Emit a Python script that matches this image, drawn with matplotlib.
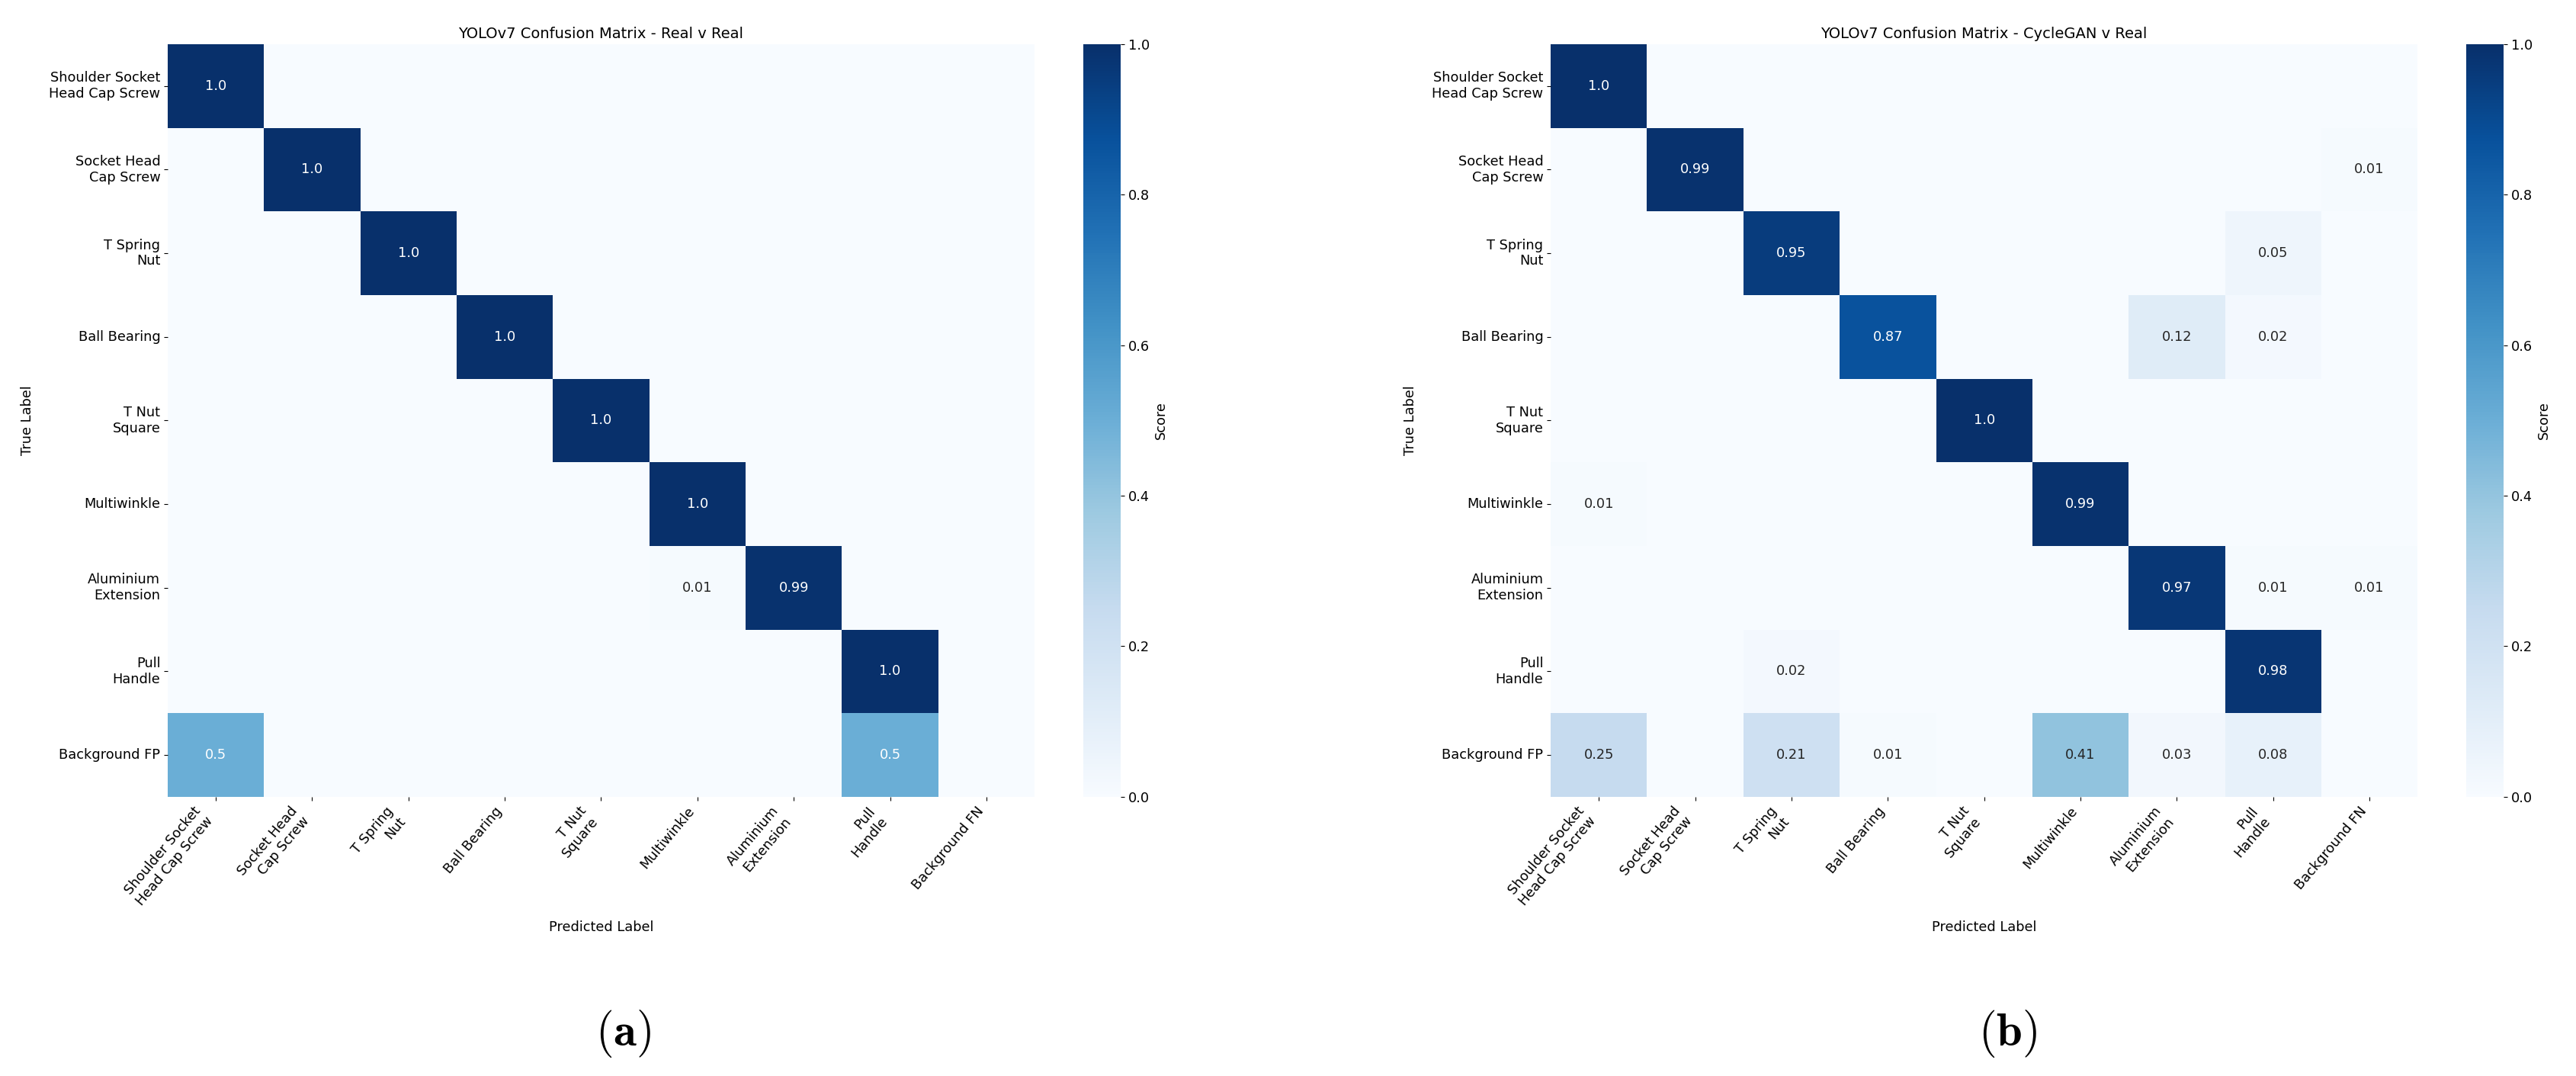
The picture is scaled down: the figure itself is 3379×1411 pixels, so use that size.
import numpy as np
import matplotlib
matplotlib.use('Agg')
import matplotlib.pyplot as plt
import seaborn as sns

true_labels = ['Shoulder Socket\nHead Cap Screw', 'Socket Head\nCap Screw', 'T Spring\nNut',
               'Ball Bearing', 'T Nut\nSquare', 'Multiwinkle', 'Aluminium\nExtension',
               'Pull\nHandle', 'Background FP']
pred_labels = ['Shoulder Socket\nHead Cap Screw', 'Socket Head\nCap Screw', 'T Spring\nNut',
               'Ball Bearing', 'T Nut\nSquare', 'Multiwinkle', 'Aluminium\nExtension',
               'Pull\nHandle', 'Background FN']

# rows = true label, cols = predicted label
real_v_real = np.array([
    [1.0, 0, 0, 0, 0, 0, 0, 0, 0],
    [0, 1.0, 0, 0, 0, 0, 0, 0, 0],
    [0, 0, 1.0, 0, 0, 0, 0, 0, 0],
    [0, 0, 0, 1.0, 0, 0, 0, 0, 0],
    [0, 0, 0, 0, 1.0, 0, 0, 0, 0],
    [0, 0, 0, 0, 0, 1.0, 0, 0, 0],
    [0, 0, 0, 0, 0, 0.01, 0.99, 0, 0],
    [0, 0, 0, 0, 0, 0, 0, 1.0, 0],
    [0.5, 0, 0, 0, 0, 0, 0, 0.5, 0],
])

cyclegan_v_real = np.array([
    [1.0, 0, 0, 0, 0, 0, 0, 0, 0],
    [0, 0.99, 0, 0, 0, 0, 0, 0, 0.01],
    [0, 0, 0.95, 0, 0, 0, 0, 0.05, 0],
    [0, 0, 0, 0.87, 0, 0, 0.12, 0.02, 0],
    [0, 0, 0, 0, 1.0, 0, 0, 0, 0],
    [0.01, 0, 0, 0, 0, 0.99, 0, 0, 0],
    [0, 0, 0, 0, 0, 0, 0.97, 0.01, 0.01],
    [0, 0, 0.02, 0, 0, 0, 0, 0.98, 0],
    [0.25, 0, 0.21, 0.01, 0, 0.41, 0.03, 0.08, 0],
])

titles = ['YOLOv7 Confusion Matrix - Real v Real', 'YOLOv7 Confusion Matrix - CycleGAN v Real']
captions = ['a', 'b']

plt.rcParams['font.size'] = 12.8
plt.rcParams['mathtext.fontset'] = 'cm'

fig = plt.figure(figsize=(33.79, 14.11), dpi=100)

ax_lefts = [0.0651, 0.6020]
cb_lefts = [0.4205, 0.9574]
caption_x = [0.2420, 0.7795]
bottom, height = 0.2595, 0.6995

for i, cm in enumerate([real_v_real, cyclegan_v_real]):
    ax = fig.add_axes([ax_lefts[i], bottom, 0.3365, height])
    cax = fig.add_axes([cb_lefts[i], bottom, 0.0145, height])
    annot = np.where(cm > 0, np.vectorize(lambda v: str(round(v, 2)))(cm), '')
    sns.heatmap(cm, ax=ax, cbar_ax=cax, cmap='Blues', vmin=0, vmax=1,
                annot=annot, fmt='', annot_kws={'fontsize': 12.8},
                xticklabels=pred_labels, yticklabels=true_labels,
                cbar_kws={'label': 'Score'})
    ax.set_title(titles[i], fontsize=14)
    ax.set_xlabel('Predicted Label', labelpad=11)
    ax.set_ylabel('True Label', labelpad=14)
    plt.setp(ax.get_xticklabels(), rotation=50, ha='right')
    plt.setp(ax.get_yticklabels(), rotation=0)
    fig.text(caption_x[i], 0.039, r'$(\mathbf{' + captions[i] + '})$',
             fontsize=44, ha='center', va='center')

fig.savefig('out.png', dpi=100)
